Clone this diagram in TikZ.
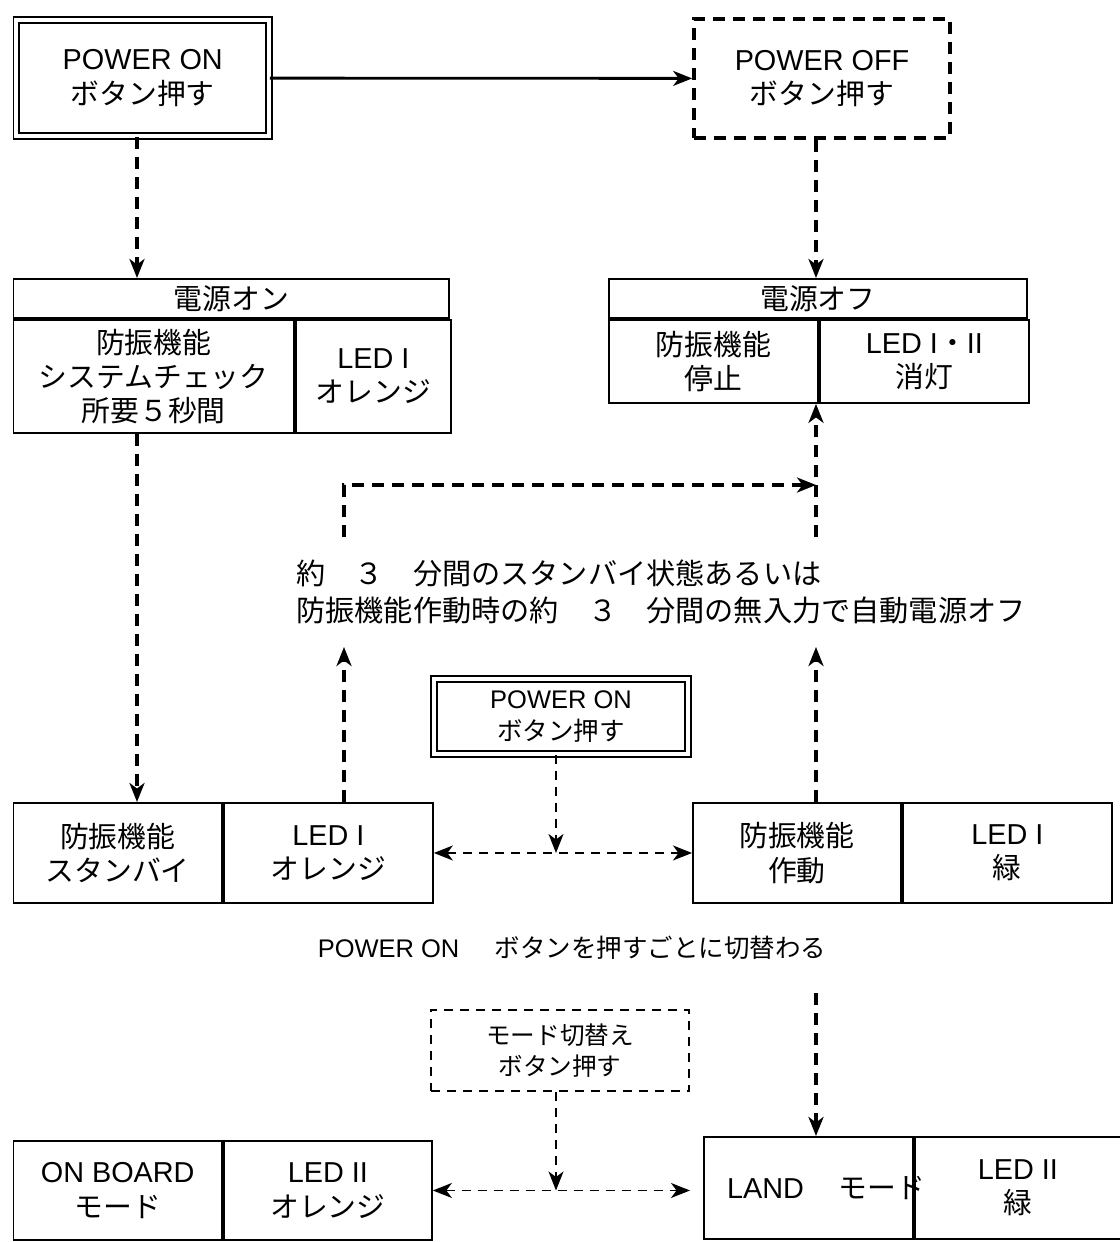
\documentclass[tikz,border=0pt]{standalone}
\usepackage{fontspec}
\setmainfont{Liberation Sans}
\newfontfamily\jp{Noto Sans CJK JP}
\usepackage{tikz}
\usetikzlibrary{arrows.meta}
\usetikzlibrary{positioning}

\begin{document}
\begin{tikzpicture}[>={Stealth[length=0.38cm, width=0.3cm, inset=0.11cm]}, line join=miter,
    cell/.style={draw, line width=1.1pt, inner sep=0pt, align=center, font={\fontsize{16.4}{19.5}\selectfont}},
    jp/.style={font={\fontsize{16.4}{19.5}\selectfont\jp}},
    press/.style={cell, double, line width=0.9pt, double distance=0.08cm},
    dashbox/.style={cell, line width=2.1pt, dash pattern=on 0.24cm off 0.16cm},
    thinbox/.style={cell, line width=1pt, dash pattern=on 0.18cm off 0.14cm},
    link/.style={->, line width=2.1pt, dash pattern=on 0.24cm off 0.16cm},
    thinlink/.style={->, line width=1pt, dash pattern=on 0.18cm off 0.14cm}]

    \useasboundingbox (0,0) rectangle (22.4,-24.84);

    \coordinate (XA) at (2.74,0);
    \coordinate (XB) at (16.32,0);
    \coordinate (XC) at (6.88,0);
    \coordinate (XM) at (11.12,0);

    \coordinate (UL) at (6.88,-12.94);
    \coordinate (UR) at (16.32,-12.94);
    \coordinate (DL) at (6.88,-10.74);
    \coordinate (DR) at (16.32,-10.74);
    \coordinate (JR) at (16.32,-9.70);
    \coordinate (TL) at (16.32,-19.86);

    \node[press, minimum width=5.05cm, minimum height=2.32cm] (ON) at (2.855,-1.56) {POWER ON\\{\jp ボタン押す}};
    \node[dashbox, minimum width=5.12cm, minimum height=2.38cm] (OFF) at (16.44,-1.57) {POWER OFF\\{\jp ボタン押す}};

    \node[cell, jp, minimum width=8.71cm, minimum height=0.78cm, anchor=north west] (ONH) at (0.25,-5.56) {電源オン};
    \node[cell, jp, minimum width=5.61cm, minimum height=2.26cm, anchor=north west] (ONL) at (ONH.south west) {防振機能\\システムチェック\\所要５秒間};
    \node[cell, minimum width=3.10cm, minimum height=2.26cm, anchor=north west] (ONR) at (ONL.north east) {LED I\\{\jp オレンジ}};

    \node[cell, jp, minimum width=8.36cm, minimum height=0.78cm, anchor=north west] (OFFH) at (12.16,-5.56) {電源オフ};
    \node[cell, jp, minimum width=4.18cm, minimum height=1.66cm, anchor=north west] (OFFL) at (OFFH.south west) {防振機能\\停止};
    \node[cell, minimum width=4.18cm, minimum height=1.66cm, anchor=north west] (OFFR) at (OFFL.north east) {LED I{\jp ・}II\\{\jp 消灯}};

    \node[anchor=west, align=left, inner sep=0pt, font={\fontsize{16.6}{21}\selectfont\jp}] (NOTE) at (5.92,-11.83) {約　３　分間のスタンバイ状態あるいは\\防振機能作動時の約　３　分間の無入力で自動電源オフ};

    \node[press, minimum width=5.08cm, minimum height=1.50cm, font={\fontsize{14.5}{18.5}\selectfont}] (MP) at (11.22,-14.33) {POWER ON\\{\jp ボタン押す}};

    \node[cell, jp, minimum width=4.17cm, minimum height=2.0cm, anchor=north west] (SBL) at (0.25,-16.04) {防振機能\\スタンバイ};
    \node[cell, minimum width=4.18cm, minimum height=2.0cm, anchor=north west] (SBR) at (SBL.north east) {LED I\\{\jp オレンジ}};
    \node[cell, jp, minimum width=4.16cm, minimum height=2.0cm, anchor=north west] (ACL) at (13.84,-16.04) {防振機能\\作動};
    \node[cell, minimum width=4.18cm, minimum height=2.0cm, anchor=north west] (ACR) at (ACL.north east) {LED I\\{\jp 緑}};

    \node[inner sep=0pt, font={\fontsize{14.5}{17}\selectfont}] (TOG) at (11.44,-18.96) {POWER ON\hspace{1.4em}{\jp ボタンを押すごとに切替わる}};

    \node[thinbox, minimum width=5.17cm, minimum height=1.63cm, font={\fontsize{14}{17.6}\selectfont\jp}] (MD) at (11.2,-21.01) {モード切替え\\ボタン押す};

    \node[cell, minimum width=4.17cm, minimum height=1.98cm, anchor=north west] (OBL) at (0.25,-22.8) {ON BOARD\\{\jp モード}};
    \node[cell, minimum width=4.16cm, minimum height=1.98cm, anchor=north west] (OBR) at (OBL.north east) {LED II\\{\jp オレンジ}};
    \node[cell, minimum width=4.18cm, minimum height=2.04cm, anchor=north west] (LDL) at (14.06,-22.72) {\makebox[0pt]{\hspace{0.7cm}LAND\hspace{1.2em}{\jp モード}}};
    \node[cell, minimum width=4.12cm, minimum height=2.04cm, anchor=north west] (LDR) at (LDL.north east) {LED II\\{\jp 緑}};

    \draw[->, line width=1.6pt] (ON) -- (OFF);

    \draw[link] (ON.south -| XA) -- (ONH.north -| XA);
    \draw[link] (OFF.south -| XB) -- (OFFH.north -| XB);
    \draw[link] (ONL.south -| XA) -- (SBL.north -| XA);

    \draw[link] (SBR.north -| XC) -- (UL);
    \draw[link] (ACL.north -| XB) -- (UR);
    \draw[link] (DL) |- (JR);
    \draw[link] (DR) -- (OFFL.south -| XB);

    \draw[thinlink] (MP.south -| XM) -- (SBR.east -| XM);
    \draw[thinlink, <->] (SBR.east) -- (ACL.west);

    \draw[link] (TL) -- (LDL.north -| XB);
    \draw[thinlink] (MD.south -| XM) -- (OBR.east -| XM);
    \draw[thinlink, <->, shorten >=0.26cm] (OBR.east) -- (OBR.east -| LDL.west);

\end{tikzpicture}
\end{document}
